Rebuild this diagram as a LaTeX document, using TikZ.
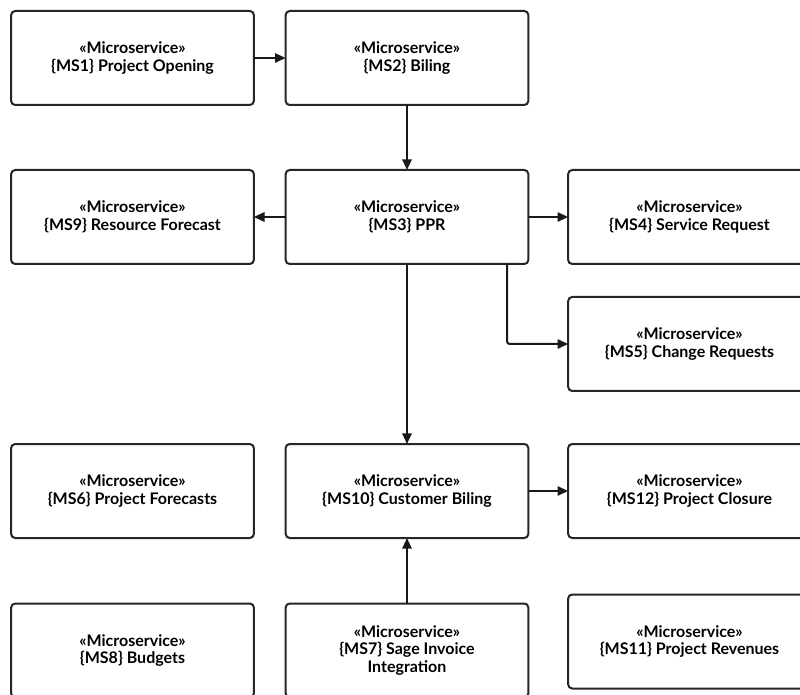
\documentclass[tikz,border=0pt]{standalone}
\usepackage{fontspec}
\setmainfont{Lato}[BoldFont={Lato Bold}]
\usetikzlibrary{arrows.meta}
\begin{document}
\begin{tikzpicture}[x=0.75pt,y=-0.75pt,
  svc/.style={draw=black!85,line width=1.5pt,rounded corners=3pt,fill=white,
    minimum width=182pt,minimum height=70.5pt,inner sep=0pt,outer sep=0pt,
    align=center,font=\fontsize{12pt}{13.2pt}\selectfont\bfseries,text=black},
  link/.style={draw=black!90,line width=1.5pt,rounded corners=2pt,
    -{Triangle[length=8pt,width=7pt]}}]
\useasboundingbox (0,0) rectangle (800,695);
\clip (0,0) rectangle (800,695);
% first row
\node[svc] (ms1) at (132.5,58) {«Microservice»\\\{MS1\} Project Opening};
\node[svc] (ms2) at (407,58) {«Microservice»\\\{MS2\} Biling};
% second row
\node[svc] (ms9) at (132.5,217) {«Microservice»\\\{MS9\} Resource Forecast};
\node[svc] (ms3) at (407,217) {«Microservice»\\\{MS3\} PPR};
\node[svc] (ms4) at (689.5,217) {«Microservice»\\\{MS4\} Service Request};
\node[svc] (ms5) at (689.5,344) {«Microservice»\\\{MS5\} Change Requests};
% third row
\node[svc] (ms6) at (132.5,491) {«Microservice»\\\{MS6\} Project Forecasts};
\node[svc] (ms10) at (407,491) {«Microservice»\\\{MS10\} Customer Biling};
\node[svc] (ms12) at (689.5,491) {«Microservice»\\\{MS12\} Project Closure};
% bottom row
\node[svc] (ms8) at (132.5,650.5) {«Microservice»\\\{MS8\} Budgets};
\node[svc] (ms7) at (407,650.5) {«Microservice»\\\{MS7\} Sage Invoice\\Integration};
\node[svc] (ms11) at (689.5,641.5) {«Microservice»\\\{MS11\} Project Revenues};
% connectors
\draw[link] (ms1) -- (ms2);
\draw[link] (ms2) -- (ms3);
\draw[link] (ms3) -- (ms9);
\draw[link] (ms3) -- (ms4);
\draw[link] (ms3) -- (ms10);
\draw[link] ([xshift=75pt]ms3.south) |- (ms5.west);
\draw[link] (ms10) -- (ms12);
\draw[link] (ms7) -- (ms10);
\end{tikzpicture}
\end{document}
